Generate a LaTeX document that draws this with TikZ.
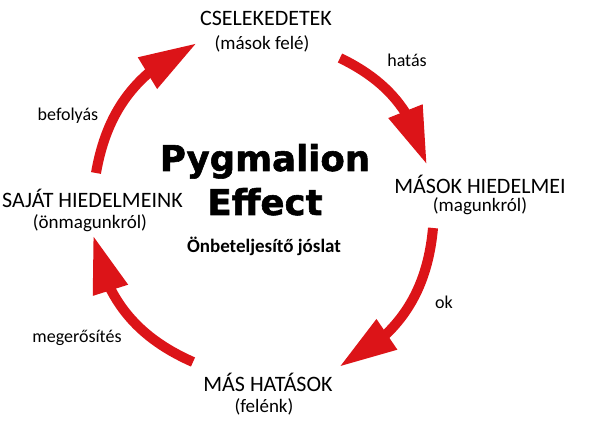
\documentclass[tikz,border=0pt]{standalone}
\usepackage{fontspec}
\setmainfont{Carlito}
\newfontfamily\titlefont{DejaVu Sans}[BoldFeatures={FakeBold=1.6}]
\usepackage{tikz}
\usetikzlibrary{arrows.meta, bending, positioning}
\definecolor{cyclered}{RGB}{220,20,24}

\begin{document}
\begin{tikzpicture}[x=1pt, y=1pt,
	every node/.style={inner sep=0pt},
	mainlabel/.style={font=\fontsize{22}{24}\selectfont},
	sublabel/.style={font=\fontsize{19}{22}\selectfont},
	edgelabel/.style={font=\fontsize{18}{20}\selectfont},
	bigtitle/.style={font=\titlefont\bfseries\fontsize{35.5}{40}\selectfont, anchor=base},
	arrow/.style={cyclered, line width=10pt, -{Triangle[length=58pt, width=34pt]}}
	]
	\useasboundingbox (0,0) rectangle (614,425);
	
	% Centre text
	\node[bigtitle] (pyg) at (265,254) {Pygmalion};
	\node[bigtitle] (eff) at (265,210) {Effect};
	\node[font=\bfseries\fontsize{19}{20}\selectfont] (prophecy) at (264,179) {Önbeteljesítő jóslat};
	
	% The four stages (clockwise from top)
	\node[mainlabel] (acts) at (266,406.5) {CSELEKEDETEK};
	\node[sublabel] (actsSub) at (262,381.5) {(mások felé)};
	\node[mainlabel] (others) at (480,241) {MÁSOK HIEDELMEI};
	\node[sublabel] (othersSub) at (480,219) {(magunkról)};
	\node[mainlabel] (effects) at (268,43) {MÁS HATÁSOK};
	\node[sublabel] (effectsSub) at (264,18) {(felénk)};
	\node[mainlabel] (own) at (92.5,227) {SAJÁT HIEDELMEINK};
	\node[sublabel] (ownSub) at (90,202) {(önmagunkról)};
	
	% Labels on the arrows
	\node[edgelabel] (impact) at (407,365) {hatás};
	\node[edgelabel] (cause) at (444,123) {ok};
	\node[edgelabel] (reinforce) at (77,87) {megerősítés};
	\node[edgelabel] (influence) at (68,309) {befolyás};
	
	% Arrow ends
	\coordinate (a1s) at (340,367);
	\coordinate (a1e) at (427,260);
	\coordinate (a2s) at (433,197);
	\coordinate (a2e) at (339,58);
	\coordinate (a3s) at (193,63);
	\coordinate (a3e) at (93,190);
	\coordinate (a4s) at (96,252);
	\coordinate (a4e) at (197,382);
	
	% Cycle arrows
	\draw[arrow] (a1s) to[bend left=25] (a1e);
	\draw[arrow] (a2s) to[bend left=29] (a2e);
	\draw[arrow] (a3s) to[bend left=28] (a3e);
	\draw[arrow] (a4s) to[bend left=28] (a4e);
	
\end{tikzpicture}
\end{document}
